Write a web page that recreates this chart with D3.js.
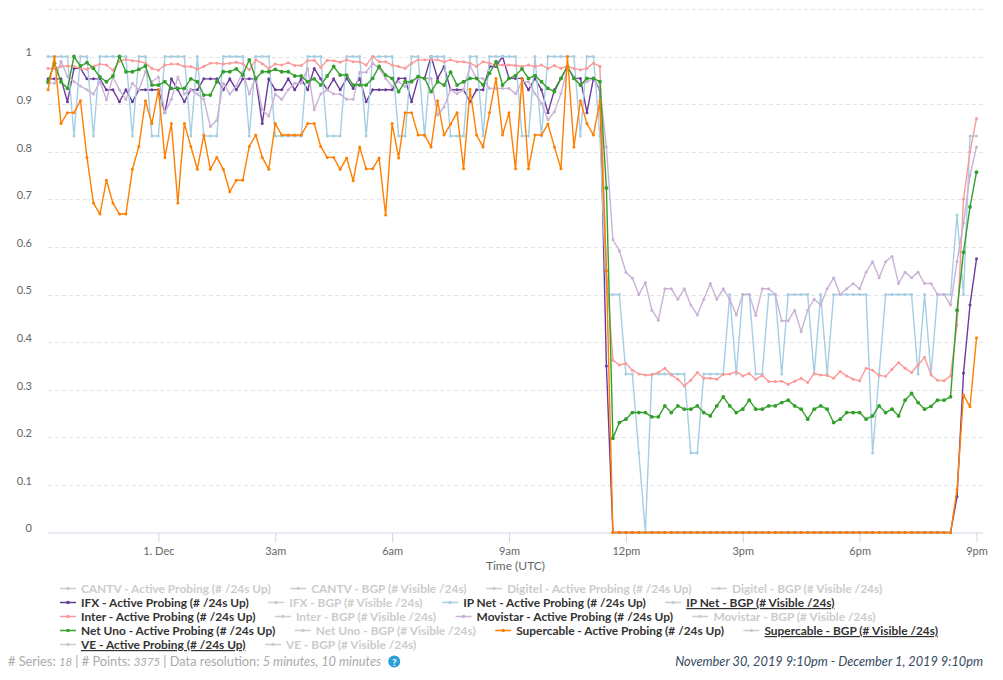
<!DOCTYPE html>
<html><head><meta charset="utf-8">
<script src="https://cdn.jsdelivr.net/npm/d3@7"></script>
<style>
html,body{margin:0;padding:0;background:#fff;}
svg{display:block;font-family:Lato,"Open Sans",sans-serif;}
</style></head>
<body>
<svg id="chart" width="1003" height="680"></svg>
<script>
// ---------------- DATA ----------------
const startTime = Date.UTC(2019, 10, 30, 21, 10);   // first sample (UTC)
const stepMinutes = 10;
const sampleCount = 144;
const xTickTimes = [Date.UTC(2019,11,1,0), Date.UTC(2019,11,1,3), Date.UTC(2019,11,1,6), Date.UTC(2019,11,1,9),
                    Date.UTC(2019,11,1,12), Date.UTC(2019,11,1,15), Date.UTC(2019,11,1,18), Date.UTC(2019,11,1,21)];
const xTickLabels = ["1. Dec", "3am", "6am", "9am", "12pm", "3pm", "6pm", "9pm"];
const yTickValues = [0, 0.1, 0.2, 0.3, 0.4, 0.5, 0.6, 0.7, 0.8, 0.9, 1.0, 1.1];
const yTickLabels = ["0", "0.1", "0.2", "0.3", "0.4", "0.5", "0.6", "0.7", "0.8", "0.9", "1", ""];

const ifxActive = [
.953,.953,.953,.905,.975,.975,.953,.953,.953,.93,
.93,.905,.93,.905,.93,.93,.93,.93,.882,.953,
.93,.905,.93,.93,.953,.953,.953,.93,.953,.93,
.953,.953,.953,.859,.953,.93,.93,.953,.93,.953,
.93,.975,.953,.93,.953,.93,.954,.933,.954,.905,
.93,.93,.93,.93,.954,.954,.905,.954,.954,1.0,
.954,.979,.93,.93,.93,.905,.93,.93,.979,.979,
1.0,.954,.954,.954,.93,.954,.93,.882,.93,.954,
.979,.954,.954,.882,.954,.93,.35,0,0,0,
0,0,0,0,0,0,0,0,0,0,
0,0,0,0,0,0,0,0,0,0,
0,0,0,0,0,0,0,0,0,0,
0,0,0,0,0,0,0,0,0,0,
0,0,0,0,0,0,0,0,0,0,
.075,.335,.478,.575];

const ipNetActive = [
1,1,1,1,.833,1,1,.833,1,1,
1,1,1,.833,1,1,.833,.833,1,1,
1,1,.833,1,.833,.833,.833,1,1,1,
1,.833,1,1,1,.833,.833,.833,.833,.833,
1,1,1,.833,.833,.833,1,1,1,.833,
1,1,1,1,.833,.833,1,1,.833,1,
1,1,.833,.833,.833,1,1,.833,1,1,
1,1,1,.833,.833,1,.833,1,1,1,
1,1,.833,1,1,.833,.5,.5,.5,.333,
.333,.167,0,.333,.333,.333,.333,.333,.333,.167,
.167,.333,.333,.333,.333,.5,.333,.5,.5,.333,
.333,.5,.5,.333,.5,.5,.5,.5,.333,.5,
.333,.5,.5,.5,.5,.5,.5,.167,.333,.5,
.5,.5,.5,.5,.333,.5,.333,.5,.5,.5,
.667,.5,.833,.833];

const interActive = [
.975,.975,.979,.98,.979,.975,.973,.979,.984,.982,
.971,.99,.994,.991,.99,.986,.975,.971,.982,.984,
.984,.979,.979,.973,.979,.986,.986,.984,.986,.988,
.985,.972,.993,.985,.975,.984,.982,.987,.981,.981,
.991,.992,.977,.992,.991,.988,.993,.989,.989,.982,
1.0,.989,.989,.982,.979,.975,.986,.993,.993,.993,
.993,.989,.993,.989,.989,.986,.979,.989,.986,.982,
.982,.982,.981,.979,.982,.979,.982,.975,.981,.975,
.979,.975,.972,.975,.986,.979,.55,.362,.352,.355,
.341,.333,.331,.331,.336,.345,.331,.322,.308,.32,
.336,.324,.324,.322,.332,.333,.338,.329,.334,.322,
.33,.317,.317,.318,.311,.318,.324,.315,.334,.331,
.33,.324,.338,.329,.322,.319,.345,.341,.33,.328,
.343,.357,.345,.336,.352,.368,.331,.32,.319,.329,
.436,.7,.8,.87];

const movistarActive = [
.944,.944,.99,.958,.947,.938,.93,.921,.947,.909,
.957,.93,.91,.944,.93,.968,.947,.957,.882,.91,
.957,.921,.93,.921,.91,.853,.866,.944,.921,.938,
.968,.921,.957,.888,.875,.921,.91,.93,.944,.944,
.975,.888,.921,.93,.921,.921,.91,.91,.967,.967,
.986,.975,.954,.937,.947,.937,.95,.954,.954,.954,
.877,.894,.93,.922,.93,.98,.954,.954,.933,.933,
.933,.933,.922,.947,.947,.922,.902,.867,.884,.922,
.975,.958,.94,.947,.954,.933,.81,.615,.592,.547,
.534,.5,.525,.467,.446,.512,.512,.49,.512,.478,
.457,.49,.523,.49,.512,.49,.457,.5,.5,.456,
.512,.512,.5,.445,.445,.467,.422,.467,.49,.478,
.512,.535,.5,.512,.523,.512,.547,.569,.535,.569,
.58,.523,.547,.535,.547,.523,.523,.5,.5,.478,
.569,.65,.75,.81];

const netUnoActive = [
.947,.986,.947,.933,1.0,.98,.987,.975,.957,.947,
.959,1.0,.968,.968,.973,.98,.94,.94,.947,.933,
.933,.933,.953,.947,.919,.919,.947,.968,.968,.974,
.961,.993,.953,.968,.968,.973,.968,.968,.959,.959,
.947,.953,.94,.959,.979,.961,.961,.94,.94,.94,
.954,.979,.961,.954,.926,.947,.947,.958,.954,.926,
.947,.94,.967,.94,.947,.954,.954,.94,.965,.989,
.94,.954,.96,.974,.954,.96,.947,.933,.926,.954,
.979,.954,.94,.954,.954,.947,.724,.198,.231,.238,
.252,.252,.252,.243,.243,.266,.252,.266,.259,.259,
.266,.252,.245,.266,.285,.266,.252,.259,.278,.259,
.259,.266,.266,.273,.278,.266,.259,.238,.259,.266,
.259,.231,.238,.252,.252,.252,.238,.245,.266,.252,
.259,.245,.278,.292,.273,.259,.265,.278,.278,.285,
.467,.589,.684,.757];

const supercableActive = [
.93,1.0,.859,.882,.882,.907,.788,.692,.669,.74,
.692,.669,.669,.763,.811,.907,.859,.93,.788,.859,
.692,.859,.811,.763,.835,.763,.788,.763,.716,.74,
.74,.811,.835,.788,.763,.859,.835,.835,.835,.835,
.859,.859,.811,.788,.788,.763,.787,.739,.81,.764,
.764,.787,.667,.859,.787,.882,.882,.835,.835,.81,
.907,.835,.858,.882,.764,.931,.835,.81,.882,.954,
.835,.882,.764,.954,.764,.835,.835,.858,.81,.764,
1.0,.81,.907,.859,.835,.907,.55,0,0,0,
0,0,0,0,0,0,0,0,0,0,
0,0,0,0,0,0,0,0,0,0,
0,0,0,0,0,0,0,0,0,0,
0,0,0,0,0,0,0,0,0,0,
0,0,0,0,0,0,0,0,0,0,
.09,.289,.264,.409];

// draw order (later on top)
const seriesNames = ["IFX", "IP Net", "Inter", "Movistar", "Net Uno", "Supercable"];
const seriesValues = [ifxActive, ipNetActive, interActive, movistarActive, netUnoActive, supercableActive];
const seriesColors = ["#6a3d9a", "#a6cee3", "#fb9a99", "#cab2d6", "#33a02c", "#ff7f00"];

const legendRows = [
  ["CANTV - Active Probing (# /24s Up)", "CANTV - BGP (# Visible /24s)", "Digitel - Active Probing (# /24s Up)", "Digitel - BGP (# Visible /24s)"],
  ["IFX - Active Probing (# /24s Up)", "IFX - BGP (# Visible /24s)", "IP Net - Active Probing (# /24s Up)", "IP Net - BGP (# Visible /24s)"],
  ["Inter - Active Probing (# /24s Up)", "Inter - BGP (# Visible /24s)", "Movistar - Active Probing (# /24s Up)", "Movistar - BGP (# Visible /24s)"],
  ["Net Uno - Active Probing (# /24s Up)", "Net Uno - BGP (# Visible /24s)", "Supercable - Active Probing (# /24s Up)", "Supercable - BGP (# Visible /24s)"],
  ["VE - Active Probing (# /24s Up)", "VE - BGP (# Visible /24s)"]
];
// state: "h" hidden, "u" underlined (no data), or a colour for visible series
const legendStates = [
  ["h","h","h","h"],
  ["#6a3d9a","h","#a6cee3","u"],
  ["#fb9a99","h","#cab2d6","h"],
  ["#33a02c","h","#ff7f00","u"],
  ["u","h"]
];
const footerSeries = "18", footerPoints = "3375", footerResolution = "5 minutes, 10 minutes";
const dateRangeText = "November 30, 2019 9:10pm - December 1, 2019 9:10pm";

// ---------------- CHART ----------------
const svg = d3.select("#chart");
const plot = {left: 48, right: 983, top: 8.9, bottom: 532.5};
const times = d3.range(sampleCount).map(i => startTime + i * stepMinutes * 60000);

const x = d3.scaleUtc().domain([startTime, startTime + 24*3600000]).range([plot.left, plot.right]);
const y = d3.scaleLinear().domain([0, 1.1]).range([plot.bottom, plot.top]);

// grid
const grid = svg.append("g");
yTickValues.forEach((v, k) => {
  if (v === 0) return;
  grid.append("line").attr("x1", plot.left).attr("x2", plot.right)
    .attr("y1", Math.round(y(v)) + 0.5).attr("y2", Math.round(y(v)) + 0.5)
    .attr("stroke", "#e3e3e3").attr("stroke-width", 1).attr("stroke-dasharray", "4,3");
});

// y labels
const yAxis = d3.axisLeft(y).tickValues(yTickValues).tickSize(0).tickPadding(0)
  .tickFormat((d, k) => yTickLabels[k]);
const gy = svg.append("g").attr("transform", `translate(32,0)`).call(yAxis);
gy.select(".domain").remove();
gy.selectAll("text").attr("fill", "#666").attr("font-size", "11px")
  .attr("font-family", "Lato, sans-serif").attr("dy", "-0.05em");

// x axis
const xAxis = d3.axisBottom(x).tickValues(xTickTimes).tickSize(10).tickPadding(5)
  .tickFormat((d, k) => xTickLabels[k]);
const gx = svg.append("g").attr("transform", `translate(0,${plot.bottom})`).call(xAxis);
gx.select(".domain").attr("stroke", "#ccd6eb").attr("d", `M${plot.left},0.5H${plot.right}`);
gx.selectAll(".tick line").attr("stroke", "#ccd6eb");
gx.selectAll("text").attr("fill", "#666").attr("font-size", "11px").attr("font-family", "Lato, sans-serif");

svg.append("text").attr("x", (plot.left + plot.right) / 2).attr("y", 570)
  .attr("text-anchor", "middle").attr("fill", "#666").attr("font-size", "12px").text("Time (UTC)");

// series
const line = d3.line().x((d, i) => x(times[i])).y(d => y(d));
const sg = svg.append("g");
seriesValues.forEach((vals, s) => {
  const g = sg.append("g");
  g.append("path").datum(vals).attr("d", line).attr("fill", "none")
    .attr("stroke", seriesColors[s]).attr("stroke-width", 1.4).attr("stroke-linejoin", "round");
  g.selectAll("circle").data(vals).join("circle")
    .attr("cx", (d, i) => x(times[i])).attr("cy", d => y(d))
    .attr("r", s === 4 ? 1.9 : 1.5).attr("fill", seriesColors[s]);
});

// legend
const lg = svg.append("g").attr("font-size", "11.9px").attr("font-weight", "bold");
const rowY = [589, 603, 617, 631, 645];
legendRows.forEach((row, r) => {
  let cx = 60;
  row.forEach((label, c) => {
    const st = legendStates[r][c];
    const symColor = (st === "h" || st === "u") ? "#cccccc" : st;
    const txtColor = st === "h" ? "#cccccc" : "#333333";
    const yy = rowY[r];
    lg.append("line").attr("x1", cx).attr("x2", cx + 16).attr("y1", yy - 0.5).attr("y2", yy - 0.5)
      .attr("stroke", symColor).attr("stroke-width", 1.5);
    lg.append("circle").attr("cx", cx + 8).attr("cy", yy - 0.5).attr("r", 1.8).attr("fill", symColor);
    const t = lg.append("text").attr("x", cx + 21).attr("y", yy + 4).attr("fill", txtColor).text(label);
    if (st === "u") t.attr("text-decoration", "underline");
    const w = t.node().getComputedTextLength();
    cx = cx + 21 + w + 19.5;
  });
});

// footer
const ft = svg.append("text").attr("x", 8).attr("y", 666).attr("fill", "#aaaaaa").attr("font-size", "12.8px");
ft.append("tspan").text("# Series: ");
ft.append("tspan").attr("font-style", "italic").attr("font-size", "11.3px").text(footerSeries);
ft.append("tspan").text(" | # Points: ");
ft.append("tspan").attr("font-style", "italic").attr("font-size", "11.3px").text(footerPoints);
ft.append("tspan").text(" | Data resolution: ");
ft.append("tspan").attr("font-style", "italic").text(footerResolution);
const fw = ft.node().getComputedTextLength();
const qx = 8 + fw + 13;
svg.append("circle").attr("cx", qx).attr("cy", 661.5).attr("r", 6).attr("fill", "#2a9fd8");
svg.append("text").attr("x", qx).attr("y", 665.5).attr("text-anchor", "middle").attr("fill", "#fff")
  .attr("font-size", "10px").attr("font-weight", "bold").text("?");

svg.append("text").attr("x", 983).attr("y", 666).attr("text-anchor", "end").attr("fill", "#34495e")
  .attr("font-size", "12.75px").attr("font-style", "italic").text(dateRangeText);
</script>
</body></html>
